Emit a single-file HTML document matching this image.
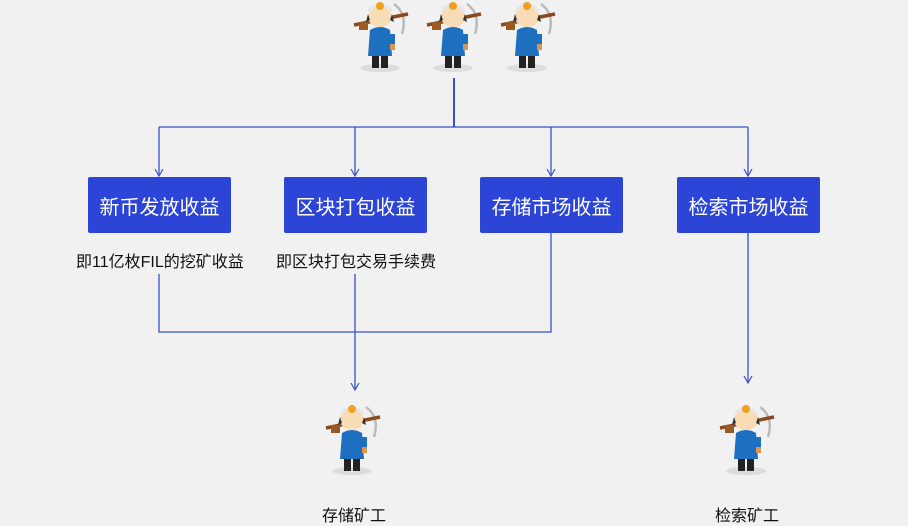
<!DOCTYPE html>
<html><head><meta charset="utf-8"><style>
html,body{margin:0;padding:0;background:#f1f1f1;}
body{width:908px;height:517px;overflow:hidden;position:relative;font-family:"Liberation Sans","Noto Sans CJK SC",sans-serif;}
.b{position:absolute;width:143px;height:56px;background:#2d45d6;color:#fff;font-size:20px;display:flex;align-items:center;justify-content:center;border-radius:2px;}
.t{position:absolute;font-size:16px;color:#111;white-space:nowrap;}
svg{position:absolute;left:0;top:0;}
</style></head><body>
<svg width="908" height="517">
<defs>
<g id="m">
<ellipse cx="30" cy="68" rx="20" ry="4" fill="#dcdcdc"/>
<path d="M44 4 Q58 14 52 34" stroke="#bbb" stroke-width="2.5" fill="none"/>
<rect x="22" y="54" width="7" height="14" fill="#222"/>
<rect x="31" y="54" width="7" height="14" fill="#222"/>
<path d="M20 30 Q30 24 40 30 L42 56 L18 56 Z" fill="#1f6fc0"/>
<rect x="40" y="34" width="5" height="12" fill="#1f6fc0"/>
<rect x="40" y="44" width="5" height="6" fill="#d9964f"/>
<line x1="4" y1="25" x2="58" y2="14" stroke="#8a4a1e" stroke-width="3.5"/>
<rect x="9" y="22" width="9" height="8" fill="#9a5a26"/>
<ellipse cx="30" cy="17" rx="12" ry="10" fill="#f7dcb6"/>
<path d="M18 12 Q30 2 42 12 L42 9 Q30 -2 18 9Z" fill="#e6e6e6"/>
<circle cx="30" cy="6" r="4" fill="#f0a020"/>
<path d="M18 14 L16 22 L20 20Z M42 14 L44 22 L40 20Z" fill="#333"/>
</g>
<marker id="a" markerWidth="10" markerHeight="10" refX="9" refY="5" orient="auto" markerUnits="userSpaceOnUse">
<path d="M2 1 L9 5 L2 9" stroke="#3a4fd0" stroke-width="1.2" fill="none"/></marker>
</defs>
<use href="#m" x="350" y="0"/>
<use href="#m" x="423" y="0"/>
<use href="#m" x="497" y="0"/>
<use href="#m" x="322" y="403"/>
<use href="#m" x="716" y="403"/>
<g stroke="#3a4fd0" stroke-width="1.3" fill="none">
<line x1="454" y1="78" x2="454" y2="127" stroke-width="2"/>
<line x1="159" y1="127" x2="748" y2="127"/>
<line x1="159" y1="127" x2="159" y2="176" marker-end="url(#a)"/>
<line x1="355" y1="127" x2="355" y2="176" marker-end="url(#a)"/>
<line x1="551" y1="127" x2="551" y2="176" marker-end="url(#a)"/>
<line x1="748" y1="127" x2="748" y2="176" marker-end="url(#a)"/>
<polyline points="159,274 159,332 551,332 551,233"/>
<line x1="355" y1="274" x2="355" y2="390" marker-end="url(#a)"/>
<line x1="748" y1="233" x2="748" y2="383" marker-end="url(#a)"/>
</g>
</svg>
<div class="b" style="left:88px;top:177px">新币发放收益</div>
<div class="b" style="left:284px;top:177px">区块打包收益</div>
<div class="b" style="left:480px;top:177px">存储市场收益</div>
<div class="b" style="left:677px;top:177px">检索市场收益</div>
<div class="t" style="left:76px;top:248px">即11亿枚FIL的挖矿收益</div>
<div class="t" style="left:276px;top:248px">即区块打包交易手续费</div>
<div class="t" style="left:322px;top:502px">存储矿工</div>
<div class="t" style="left:715px;top:502px">检索矿工</div>
</body></html>
